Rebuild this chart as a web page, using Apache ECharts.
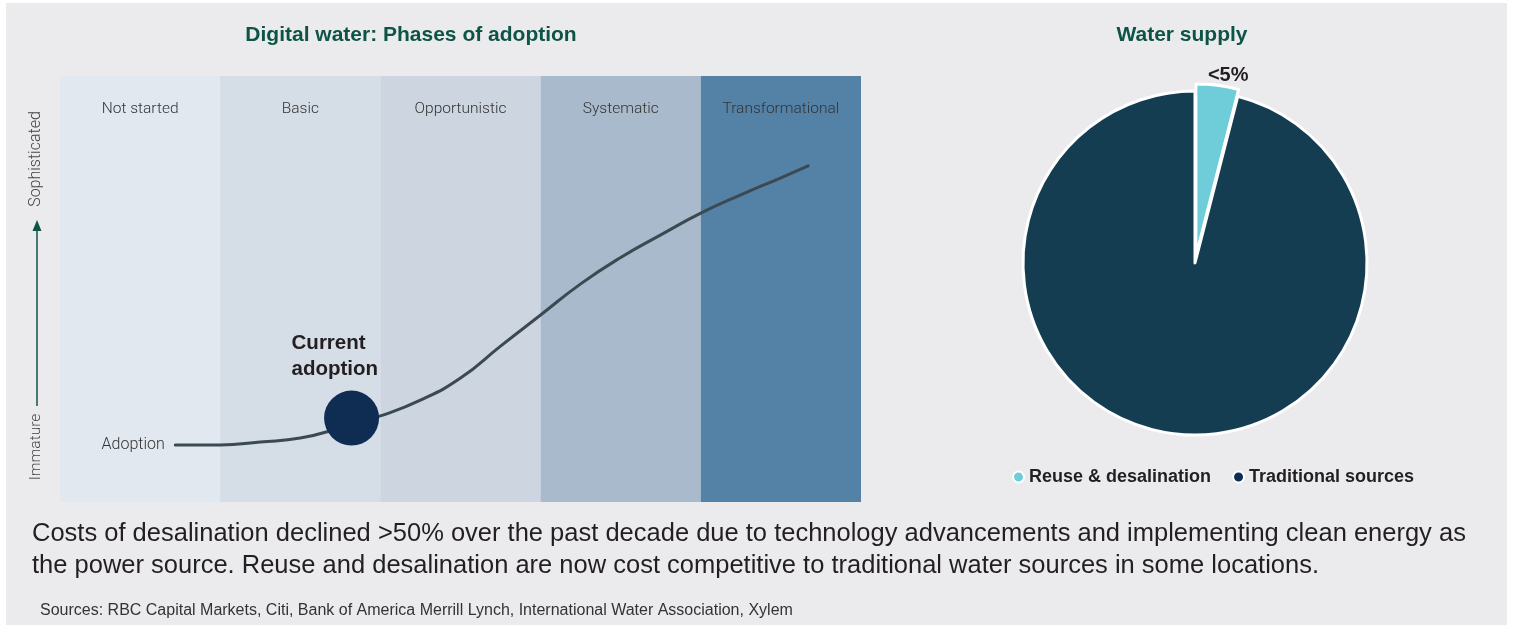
<!DOCTYPE html>
<html><head><meta charset="utf-8">
<script src="https://cdn.jsdelivr.net/npm/echarts@6/dist/echarts.min.js"></script>
<style>html,body{margin:0;padding:0;background:#fff}#c{width:1514px;height:628px}</style>
</head><body><div id="c"></div>
<script>
const phases = ['Not started', 'Basic', 'Opportunistic', 'Systematic', 'Transformational'];
const phaseColors = ['#e2e8f0', '#d5dde7', '#cdd5e1', '#a9bacc', '#5482a7'];
const curveX = [0.72, 1.0, 1.25, 1.5, 1.75, 2.0, 2.25, 2.5, 2.75, 3.0, 3.25, 3.5, 3.75, 4.0, 4.25, 4.5, 4.67];
const curveY = [13.4, 13.4, 14.1, 15.0, 17.4, 20.2, 23.9, 29.1, 36.6, 43.9, 51.2, 57.4, 62.7, 67.8, 72.1, 76.1, 78.9];
const currentPoint = [1.82, 19.7];
const supplyNames = ['Reuse & desalination', 'Traditional sources'];
const supplyValues = [4, 96];
const supplyColors = ['#6fcdd9', '#143d52'];
const legendColors = ['#6fcdd9', '#0e2f55'];

const chart = echarts.init(document.getElementById('c'), null, {renderer: 'canvas'});
const LIGHT = 'Roboto, "Helvetica Neue", Arial, sans-serif';
const HELV = '"Liberation Sans", Arial, Helvetica, sans-serif';
const green = '#0d5447';

const option = {
  backgroundColor: '#ffffff',
  animation: false,
  grid: {left: 60, right: 653, top: 76, bottom: 126},
  xAxis: {type: 'value', min: 0, max: 5, show: false},
  yAxis: {type: 'value', min: 0, max: 100, show: false},
  legend: {
    left: 1012, top: 468, icon: 'circle', itemWidth: 11, itemHeight: 11, itemGap: 21, padding: 0,
    textStyle: {fontFamily: HELV, fontSize: 18, fontWeight: 'bold', color: '#231f20'},
    data: supplyNames.map((n, i) => ({name: n, itemStyle: {color: legendColors[i]}}))
  },
  graphic: [
    {type: 'rect', z: -100, silent: true, shape: {x: 6, y: 3, width: 1501, height: 622}, style: {fill: '#ebebee'}},
    {type: 'text', x: 411, y: 35, style: {text: 'Digital water: Phases of adoption', font: 'bold 21px ' + HELV, fill: green, textAlign: 'center', textVerticalAlign: 'middle'}},
    {type: 'text', x: 1182, y: 35, style: {text: 'Water supply', font: 'bold 21px ' + HELV, fill: green, textAlign: 'center', textVerticalAlign: 'middle'}},
    {type: 'text', x: 36, y: 447, rotation: Math.PI / 2, style: {text: 'Immature', font: '300 15.5px ' + LIGHT, fill: '#444', textAlign: 'center', textVerticalAlign: 'middle'}},
    {type: 'text', x: 36, y: 159, rotation: Math.PI / 2, style: {text: 'Sophisticated', font: '300 16px ' + LIGHT, fill: '#444', textAlign: 'center', textVerticalAlign: 'middle'}},
    {type: 'line', shape: {x1: 37, y1: 406, x2: 37, y2: 228}, style: {stroke: green, lineWidth: 1.5}},
    {type: 'polygon', shape: {points: [[37, 220], [32.5, 231], [41.5, 231]]}, style: {fill: green}},
    {type: 'text', x: 32, y: 534, style: {text: 'Costs of desalination declined >50% over the past decade due to technology advancements and implementing clean energy as', font: '25.5px ' + HELV, fill: '#231f20', textVerticalAlign: 'middle'}},
    {type: 'text', x: 32, y: 566, style: {text: 'the power source. Reuse and desalination are now cost competitive to traditional water sources in some locations.', font: '25.5px ' + HELV, fill: '#231f20', textVerticalAlign: 'middle'}},
    {type: 'text', x: 40, y: 611, style: {text: 'Sources: RBC Capital Markets, Citi, Bank of America Merrill Lynch, International Water Association, Xylem', font: '16px ' + HELV, fill: '#333', textVerticalAlign: 'middle'}}
  ],
  series: [
    {
      type: 'line', name: 'curve', smooth: 0.5, symbol: 'none', z: 3,
      lineStyle: {color: '#3b4a52', width: 3, cap: 'round'},
      data: curveX.map((x, i) => [x, curveY[i]]),
      markArea: {
        silent: true,
        label: {show: true, position: 'insideTop', distance: 25, fontFamily: LIGHT, fontSize: 15.5, fontWeight: 300, color: '#333'},
        data: phases.map((p, i) => [
          {name: p, xAxis: i, itemStyle: {color: phaseColors[i]}},
          {xAxis: i + 1}
        ])
      }
    },
    {
      type: 'scatter', name: 'start', symbolSize: 1, itemStyle: {color: 'transparent', opacity: 1}, z: 4,
      label: {show: true, position: 'left', distance: 10, formatter: 'Adoption', fontFamily: LIGHT, fontSize: 16, fontWeight: 300, color: '#333'},
      data: [[curveX[0], curveY[0]]]
    },
    {
      type: 'scatter', name: 'current', symbolSize: 55, z: 5,
      itemStyle: {color: '#0f2d52', opacity: 1},
      label: {show: true, position: 'top', distance: 8, offset: [-60, 0], formatter: 'Current\nadoption', align: 'left',
        fontFamily: HELV, fontSize: 20.5, fontWeight: 'bold', color: '#231f20', lineHeight: 26},
      data: [currentPoint]
    },
    {
      type: 'pie', name: 'Water supply', center: [1195, 263], radius: 172, startAngle: 90, clockwise: true,
      selectedMode: 'single', selectedOffset: 7,
      itemStyle: {borderColor: '#ffffff', borderWidth: 3},
      labelLine: {show: false, length: 12, length2: 0},
      labelLayout: {dx: -16, dy: 2},
      data: supplyNames.map((n, i) => ({
        name: n, value: supplyValues[i], selected: i === 0,
        itemStyle: {color: supplyColors[i]},
        label: i === 0 ? {show: true, position: 'outside', formatter: '<5%', fontFamily: HELV, fontSize: 20, fontWeight: 'bold', color: '#231f20'} : {show: false}
      }))
    }
  ]
};
chart.setOption(option);
</script></body></html>
